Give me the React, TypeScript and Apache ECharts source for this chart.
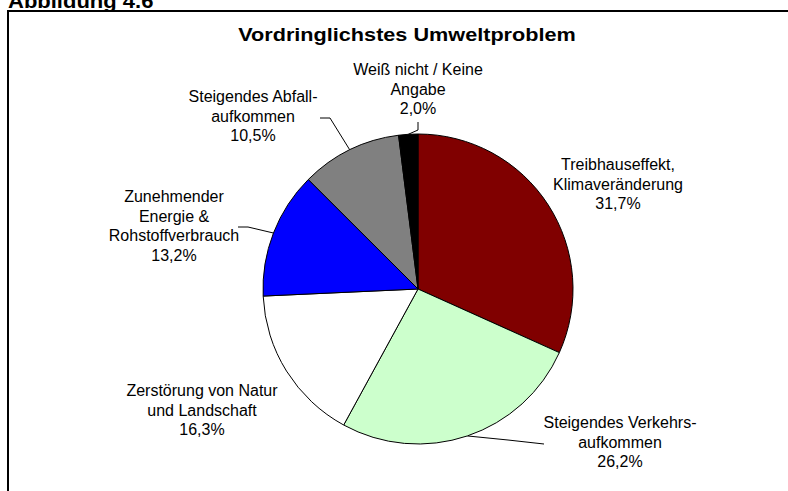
import React, { useEffect, useRef } from "react";
import * as echarts from "echarts";

const figureTitle = "Abbildung 4.6";
const chartTitle = "Vordringlichstes Umweltproblem";
const categories = [
  "Treibhauseffekt,\nKlimaveränderung",
  "Steigendes Verkehrs-\naufkommen",
  "Zerstörung von Natur\nund Landschaft",
  "Zunehmender\nEnergie &\nRohstoffverbrauch",
  "Steigendes Abfall-\naufkommen",
  "Weiß nicht / Keine\nAngabe",
];
const values = [31.7, 26.2, 16.3, 13.2, 10.5, 2.0];
const colors = ["#800000", "#CCFFCC", "#FFFFFF", "#0000FF", "#808080", "#000000"];

// label placement (layout only)
const labelCenters: number[][] = [
  [618, 184],
  [620, 442],
  [202, 410],
  [174, 226],
  [253, 116],
  [418, 89],
];
const leaderPoints: (number[][] | null)[] = [
  null,
  [[508, 440], [544, 444]],
  null,
  [[248, 227], [238, 227]],
  [[330, 118], [320, 118]],
  [[418, 130], [418, 122]],
];

const CX = 418;
const CY = 289;
const R = 155;

export default function App() {
  const ref = useRef<HTMLDivElement>(null);
  useEffect(() => {
    if (!ref.current) return;
    const chart = echarts.init(ref.current, undefined, { renderer: "svg" });
    const total = values.reduce((a, b) => a + b, 0);
    const edgePoint = (i: number) => {
      let cum = 0;
      for (let k = 0; k < i; k++) cum += values[k];
      const mid = (cum + values[i] / 2) / total;
      const ang = mid * Math.PI * 2;
      return [CX + R * Math.sin(ang), CY - R * Math.cos(ang)];
    };
    chart.setOption({
      animation: false,
      backgroundColor: "#ffffff",
      graphic: [
        {
          type: "rect",
          shape: { x: 8, y: 11, width: 800, height: 500 },
          style: { fill: "none", stroke: "#000", lineWidth: 2 },
          silent: true,
        },
        {
          type: "text",
          x: 8,
          y: 11,
          scaleX: 1.1,
          style: {
            text: figureTitle,
            font: "bold 20px 'Liberation Sans', Arial, sans-serif",
            fill: "#000",
            textAlign: "left",
            textVerticalAlign: "bottom",
          },
        },
        {
          type: "text",
          x: 407,
          y: 34,
          scaleX: 1.14,
          style: {
            text: chartTitle,
            font: "bold 19px 'Liberation Sans', Arial, sans-serif",
            fill: "#000",
            textAlign: "center",
            textVerticalAlign: "middle",
          },
        },
      ],
      series: [
        {
          type: "pie",
          center: [CX, CY],
          radius: R,
          startAngle: 90,
          clockwise: true,
          avoidLabelOverlap: false,
          itemStyle: { borderColor: "#000", borderWidth: 1 },
          label: {
            show: true,
            position: "outside",
            color: "#000",
            fontFamily: "'Liberation Sans', Arial, sans-serif",
            fontSize: 16,
            lineHeight: 19.5,
            align: "center",
            formatter: (p: any) =>
              `${p.name}\n${Number(p.value).toFixed(1).replace(".", ",")}%`,
          },
          labelLine: {
            show: true,
            lineStyle: { color: "#000", width: 1 },
          },
          labelLayout: (params: any) => {
            const i = params.dataIndex;
            const c = labelCenters[i];
            const lp = leaderPoints[i];
            const res: any = {
              x: c[0],
              y: c[1],
              align: "center",
              verticalAlign: "middle",
            };
            if (lp) {
              res.labelLinePoints = [edgePoint(i), lp[0], lp[1]];
            }
            return res;
          },
          data: values.map((v, i) => ({
            name: categories[i],
            value: v,
            itemStyle: { color: colors[i] },
            labelLine: { show: leaderPoints[i] !== null },
          })),
        },
      ],
    });
    return () => chart.dispose();
  }, []);
  return (
    <div
      ref={ref}
      style={{ position: "absolute", left: 0, top: 0, width: 788, height: 491, background: "#fff" }}
    />
  );
}
